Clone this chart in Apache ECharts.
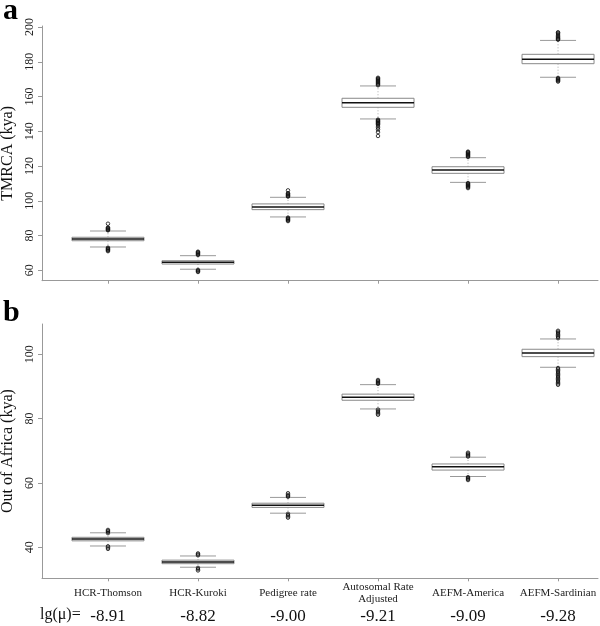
<!DOCTYPE html>
<html>
<head>
<meta charset="utf-8">
<script src="https://cdn.jsdelivr.net/npm/echarts@6/dist/echarts.min.js"></script>
<style>html,body{margin:0;padding:0;background:#fff}#c{width:600px;height:626px}</style>
</head>
<body>
<div id="c"></div>
<script>
// ---- data ----
const categories = ['HCR-Thomson', 'HCR-Kuroki', 'Pedigree rate', 'Autosomal Rate\nAdjusted', 'AEFM-America', 'AEFM-Sardinian'];
const lgMu = ['-8.91', '-8.82', '-9.00', '-9.21', '-9.09', '-9.28'];
// [whiskerLow, Q1, median, Q3, whiskerHigh]
const tmrcaStats = [
  [73.4, 77.0, 78.0, 79.0, 82.6],
  [60.6, 63.6, 64.6, 65.5, 68.4],
  [90.7, 94.9, 96.4, 98.2, 102.0],
  [147.1, 153.8, 156.4, 159.0, 166.1],
  [110.6, 115.8, 117.7, 119.6, 124.8],
  [171.1, 178.9, 181.4, 184.3, 192.3]
];
const tmrcaOutliers = [
  [83.0, 83.3, 83.6, 84.0, 84.3, 84.6, 86.8, 73.0, 72.6, 72.2, 71.8, 71.4, 71.0],
  [68.8, 69.2, 69.6, 70.0, 70.4, 70.7, 60.2, 59.8, 59.4, 59.0],
  [102.4, 102.8, 103.2, 103.6, 104.0, 104.4, 106.0, 90.3, 89.9, 89.5, 89.1, 88.7, 88.3],
  [166.5, 167.0, 167.5, 168.0, 168.5, 169.0, 169.5, 170.0, 170.4, 170.8, 146.7, 146.3, 145.9, 145.5, 145.1, 144.7, 144.3, 143.9, 143.0, 142.0, 141.0, 139.5, 137.3],
  [125.2, 125.6, 126.0, 126.4, 126.8, 127.2, 127.6, 128.0, 128.3, 110.2, 109.8, 109.4, 109.0, 108.6, 108.2, 107.8, 107.3],
  [192.7, 193.1, 193.5, 194.0, 194.6, 195.3, 196.0, 196.6, 197.0, 170.7, 170.3, 169.9, 169.5, 169.1, 168.6]
];
const ooaStats = [
  [40.4, 42.0, 42.6, 43.1, 44.5],
  [33.8, 34.9, 35.4, 36.0, 37.3],
  [50.6, 52.4, 53.1, 53.7, 55.5],
  [83.0, 85.7, 86.6, 87.6, 90.55],
  [62.0, 64.0, 65.0, 65.9, 68.0],
  [95.95, 99.25, 100.4, 101.55, 104.75]
];
const ooaOutliers = [
  [44.4, 44.8, 45.1, 45.4, 40.3, 39.9, 39.5],
  [37.5, 37.8, 38.1, 33.6, 33.2, 32.8],
  [55.7, 56.0, 56.3, 56.8, 50.4, 50.0, 49.6, 49.2],
  [90.8, 91.1, 91.4, 91.7, 92.0, 82.8, 82.4, 82.0, 81.6, 81.2],
  [68.2, 68.5, 68.8, 69.1, 69.4, 61.8, 61.5, 61.2, 60.9],
  [105.0, 105.4, 105.8, 106.2, 106.6, 107.0, 107.3, 95.7, 95.3, 94.9, 94.5, 94.1, 93.7, 93.3, 92.9, 92.5, 92.1, 91.7, 91.3, 90.9, 90.5]
];
const tmrcaTicks = [60, 80, 100, 120, 140, 160, 180, 200];
const ooaTicks = [40, 60, 80, 100];

// ---- build ----
const SERIF = '"Liberation Serif", "DejaVu Serif", serif';
const AX = '#999';
const catIdx = categories.map((c, i) => i);
const XMIN = -0.733, XMAX = 5.444;

function boxData(stats) { return stats.map((s, i) => [i].concat(s)); }
function outData(outs) {
  const r = [];
  outs.forEach((arr, i) => arr.forEach(v => r.push([i, v])));
  return r;
}
function renderBox(params, api) {
  const x = api.value(0);
  const lo = api.coord([x, api.value(1)]);
  const q1 = api.coord([x, api.value(2)]);
  const md = api.coord([x, api.value(3)]);
  const q3 = api.coord([x, api.value(4)]);
  const hi = api.coord([x, api.value(5)]);
  const bw = api.size([0.8, 0])[0];
  const cw = api.size([0.4, 0])[0];
  const cx = lo[0];
  const thin = { stroke: AX, lineWidth: 1 };
  return {
    type: 'group',
    children: [
      { type: 'line', shape: { x1: cx, y1: q3[1], x2: cx, y2: hi[1] }, style: { stroke: '#aaa', lineWidth: 1, lineDash: [1, 2] } },
      { type: 'line', shape: { x1: cx, y1: q1[1], x2: cx, y2: lo[1] }, style: { stroke: '#aaa', lineWidth: 1, lineDash: [1, 2] } },
      { type: 'line', shape: { x1: cx - cw / 2, y1: hi[1], x2: cx + cw / 2, y2: hi[1] }, style: thin },
      { type: 'line', shape: { x1: cx - cw / 2, y1: lo[1], x2: cx + cw / 2, y2: lo[1] }, style: thin },
      { type: 'rect', shape: { x: cx - bw / 2, y: q3[1], width: bw, height: q1[1] - q3[1] }, style: { fill: '#fff', stroke: '#888', lineWidth: 1 } },
      { type: 'line', shape: { x1: cx - bw / 2, y1: md[1], x2: cx + bw / 2, y2: md[1] }, style: { stroke: '#111', lineWidth: 1.5 } }
    ]
  };
}

function yAxisFor(gi, min, max, ticks, name) {
  return {
    type: 'value', gridIndex: gi, min: min, max: max,
    name: name, nameLocation: 'middle', nameRotate: 90, nameGap: 19,
    nameTextStyle: { fontFamily: SERIF, fontSize: 16, color: '#111' },
    axisLine: { show: true, onZero: false, lineStyle: { color: AX, width: 1 } },
    axisTick: { show: true, length: 4, customValues: ticks, lineStyle: { color: AX } },
    axisLabel: { customValues: ticks, rotate: 90, margin: 6, fontFamily: SERIF, fontSize: 12, color: '#222' },
    splitLine: { show: false }
  };
}

const option = {
  animation: false,
  backgroundColor: '#fff',
  grid: [
    { left: 42, right: 2, top: 26, height: 254.7, containLabel: false, outerBoundsMode: 'none' },
    { left: 42, right: 2, top: 324, height: 254.3, containLabel: false, outerBoundsMode: 'none' }
  ],
  xAxis: [
    { type: 'value', gridIndex: 0, min: XMIN, max: XMAX,
      axisLine: { onZero: false, lineStyle: { color: AX } },
      axisTick: { show: true, length: 3, customValues: catIdx, lineStyle: { color: AX } },
      axisLabel: { show: false }, splitLine: { show: false } },
    { type: 'value', gridIndex: 1, min: XMIN, max: XMAX,
      axisLine: { onZero: false, lineStyle: { color: AX } },
      axisTick: { show: true, length: 3, customValues: catIdx, lineStyle: { color: AX } },
      axisLabel: { customValues: catIdx, formatter: v => categories[Math.round(v)], margin: 15,
        verticalAlign: 'middle', lineHeight: 12, fontFamily: SERIF, fontSize: 11, color: '#222' },
      splitLine: { show: false } },
    { type: 'value', gridIndex: 1, min: XMIN, max: XMAX, position: 'bottom',
      axisLine: { show: false, onZero: false }, axisTick: { show: false },
      axisLabel: { customValues: catIdx, formatter: v => lgMu[Math.round(v)], margin: 38,
        verticalAlign: 'middle', fontFamily: SERIF, fontSize: 17, color: '#111' },
      splitLine: { show: false } }
  ],
  yAxis: [
    yAxisFor(0, 54.0, 200.6, tmrcaTicks, 'TMRCA (kya)'),
    yAxisFor(1, 30.36, 109.4, ooaTicks, 'Out of Africa (kya)')
  ],
  series: [
    { type: 'custom', xAxisIndex: 0, yAxisIndex: 0, renderItem: renderBox, data: boxData(tmrcaStats), encode: { x: 0, y: [1, 2, 3, 4, 5] }, z: 2 },
    { type: 'scatter', xAxisIndex: 0, yAxisIndex: 0, data: outData(tmrcaOutliers), symbol: 'circle', symbolSize: 3.5,
      itemStyle: { color: 'rgba(255,255,255,0)', borderColor: '#111', borderWidth: 1 }, z: 3 },
    { type: 'custom', xAxisIndex: 1, yAxisIndex: 1, renderItem: renderBox, data: boxData(ooaStats), encode: { x: 0, y: [1, 2, 3, 4, 5] }, z: 2 },
    { type: 'scatter', xAxisIndex: 1, yAxisIndex: 1, data: outData(ooaOutliers), symbol: 'circle', symbolSize: 3.5,
      itemStyle: { color: 'rgba(255,255,255,0)', borderColor: '#111', borderWidth: 1 }, z: 3 }
  ],
  graphic: [
    { type: 'text', left: 3, top: -4, style: { text: 'a', font: 'bold 30px ' + SERIF, fill: '#000' } },
    { type: 'text', left: 3, top: 298, style: { text: 'b', font: 'bold 30px ' + SERIF, fill: '#000' } },
    { type: 'text', left: 40, top: 607, style: { text: 'lg(\u03bc)=', font: '16px ' + SERIF, fill: '#111' } }
  ]
};
const chart = echarts.init(document.getElementById('c'), null, { renderer: 'canvas' });
chart.setOption(option);
</script>
</body>
</html>
